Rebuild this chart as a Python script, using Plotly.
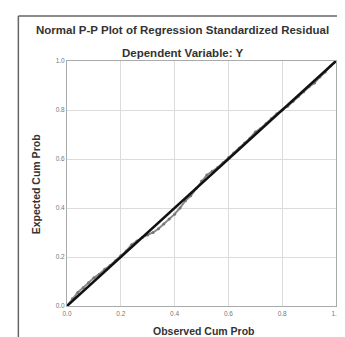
import plotly.graph_objects as go

# Data
observed = [0.00, 0.02, 0.04, 0.06, 0.08, 0.10, 0.12, 0.14, 0.16, 0.18, 0.20, 0.22, 0.24, 0.26,
            0.28, 0.30, 0.32, 0.34, 0.36, 0.38, 0.40, 0.42, 0.44, 0.46, 0.48, 0.50, 0.52, 0.54,
            0.56, 0.58, 0.60, 0.62, 0.64, 0.66, 0.68, 0.70, 0.72, 0.74, 0.76, 0.78, 0.80, 0.82,
            0.84, 0.86, 0.88, 0.90, 0.92, 0.94, 0.96, 0.98, 1.00]
expected = [0.00, 0.03, 0.055, 0.075, 0.095, 0.115, 0.13, 0.15, 0.165, 0.185, 0.205, 0.225, 0.25, 0.265,
            0.28, 0.29, 0.30, 0.315, 0.335, 0.355, 0.375, 0.40, 0.43, 0.45, 0.48, 0.51, 0.535, 0.55,
            0.565, 0.585, 0.605, 0.625, 0.645, 0.665, 0.685, 0.71, 0.725, 0.745, 0.765, 0.785, 0.80, 0.815,
            0.835, 0.855, 0.875, 0.895, 0.91, 0.935, 0.955, 0.98, 1.00]
ref_line = [0.0, 1.0]
tick_vals = [0.0, 0.2, 0.4, 0.6, 0.8, 1.0]
tick_text = ["0.0", "0.2", "0.4", "0.6", "0.8", "1.0"]

title_text = "Normal P-P Plot of Regression Standardized Residual"
subtitle_text = "Dependent Variable: Y"
x_title = "Observed Cum Prob"
y_title = "Expected Cum Prob"

W, H = 345, 337
L, R, T, B = 59, 15, 53, 39
pw, ph = W - L - R, H - T - B

def px2x(px):
    return (px - L) / pw

def py2y(py):
    return (H - B - py) / ph

fig = go.Figure()
fig.add_trace(go.Scatter(x=observed, y=expected, mode="lines+markers",
                         line=dict(color="#888888", width=2),
                         marker=dict(size=3, color="#777777"),
                         showlegend=False, hoverinfo="skip"))
fig.add_trace(go.Scatter(x=ref_line, y=ref_line, mode="lines",
                         line=dict(color="#111111", width=2.5),
                         showlegend=False, hoverinfo="skip"))

font = "Liberation Sans, Arial, sans-serif"
fig.update_layout(
    width=W, height=H,
    margin=dict(l=L, r=R, t=T, b=B),
    paper_bgcolor="white", plot_bgcolor="white",
    font=dict(family=font, color="#444444"),
    xaxis=dict(range=[0, 1], tickvals=tick_vals, ticktext=tick_text,
               showgrid=True, gridcolor="#dcdcdc", gridwidth=1,
               zeroline=False, showline=True, linecolor="#aaaaaa", mirror=True,
               ticks="", ticklabelstandoff=1, ticklabeloverflow="allow",
               tickfont=dict(size=6.5, color="#777777")),
    yaxis=dict(range=[0, 1], tickvals=tick_vals, ticktext=tick_text,
               showgrid=True, gridcolor="#dcdcdc", gridwidth=1,
               zeroline=False, showline=True, linecolor="#aaaaaa", mirror=True,
               ticks="", ticklabeloverflow="allow",
               tickfont=dict(size=6.5, color="#777777")),
    shapes=[
        dict(type="line", xref="paper", yref="paper",
             x0=px2x(10), x1=px2x(10), y0=py2y(8), y1=py2y(337),
             line=dict(color="#666666", width=1.5)),
        dict(type="line", xref="paper", yref="paper",
             x0=px2x(10), x1=px2x(345), y0=py2y(8), y1=py2y(8),
             line=dict(color="#666666", width=1.5)),
    ],
    annotations=[
        dict(text="<b>" + title_text + "</b>", xref="paper", yref="paper",
             x=px2x(175), y=py2y(22), showarrow=False, xanchor="center", yanchor="middle",
             font=dict(size=11.5, color="#333333", family=font)),
        dict(text="<b>" + subtitle_text + "</b>", xref="paper", yref="paper",
             x=px2x(176), y=py2y(45), showarrow=False, xanchor="center", yanchor="middle",
             font=dict(size=11.5, color="#333333", family=font)),
        dict(text="<b>" + x_title + "</b>", xref="paper", yref="paper",
             x=px2x(197), y=py2y(323), showarrow=False, xanchor="center", yanchor="middle",
             font=dict(size=10.5, color="#333333", family=font)),
        dict(text="<b>" + y_title + "</b>", xref="paper", yref="paper",
             x=px2x(28), y=py2y(176), showarrow=False, xanchor="center", yanchor="middle",
             textangle=-90, font=dict(size=10.5, color="#333333", family=font)),
    ],
)

fig.write_html("out.html")
